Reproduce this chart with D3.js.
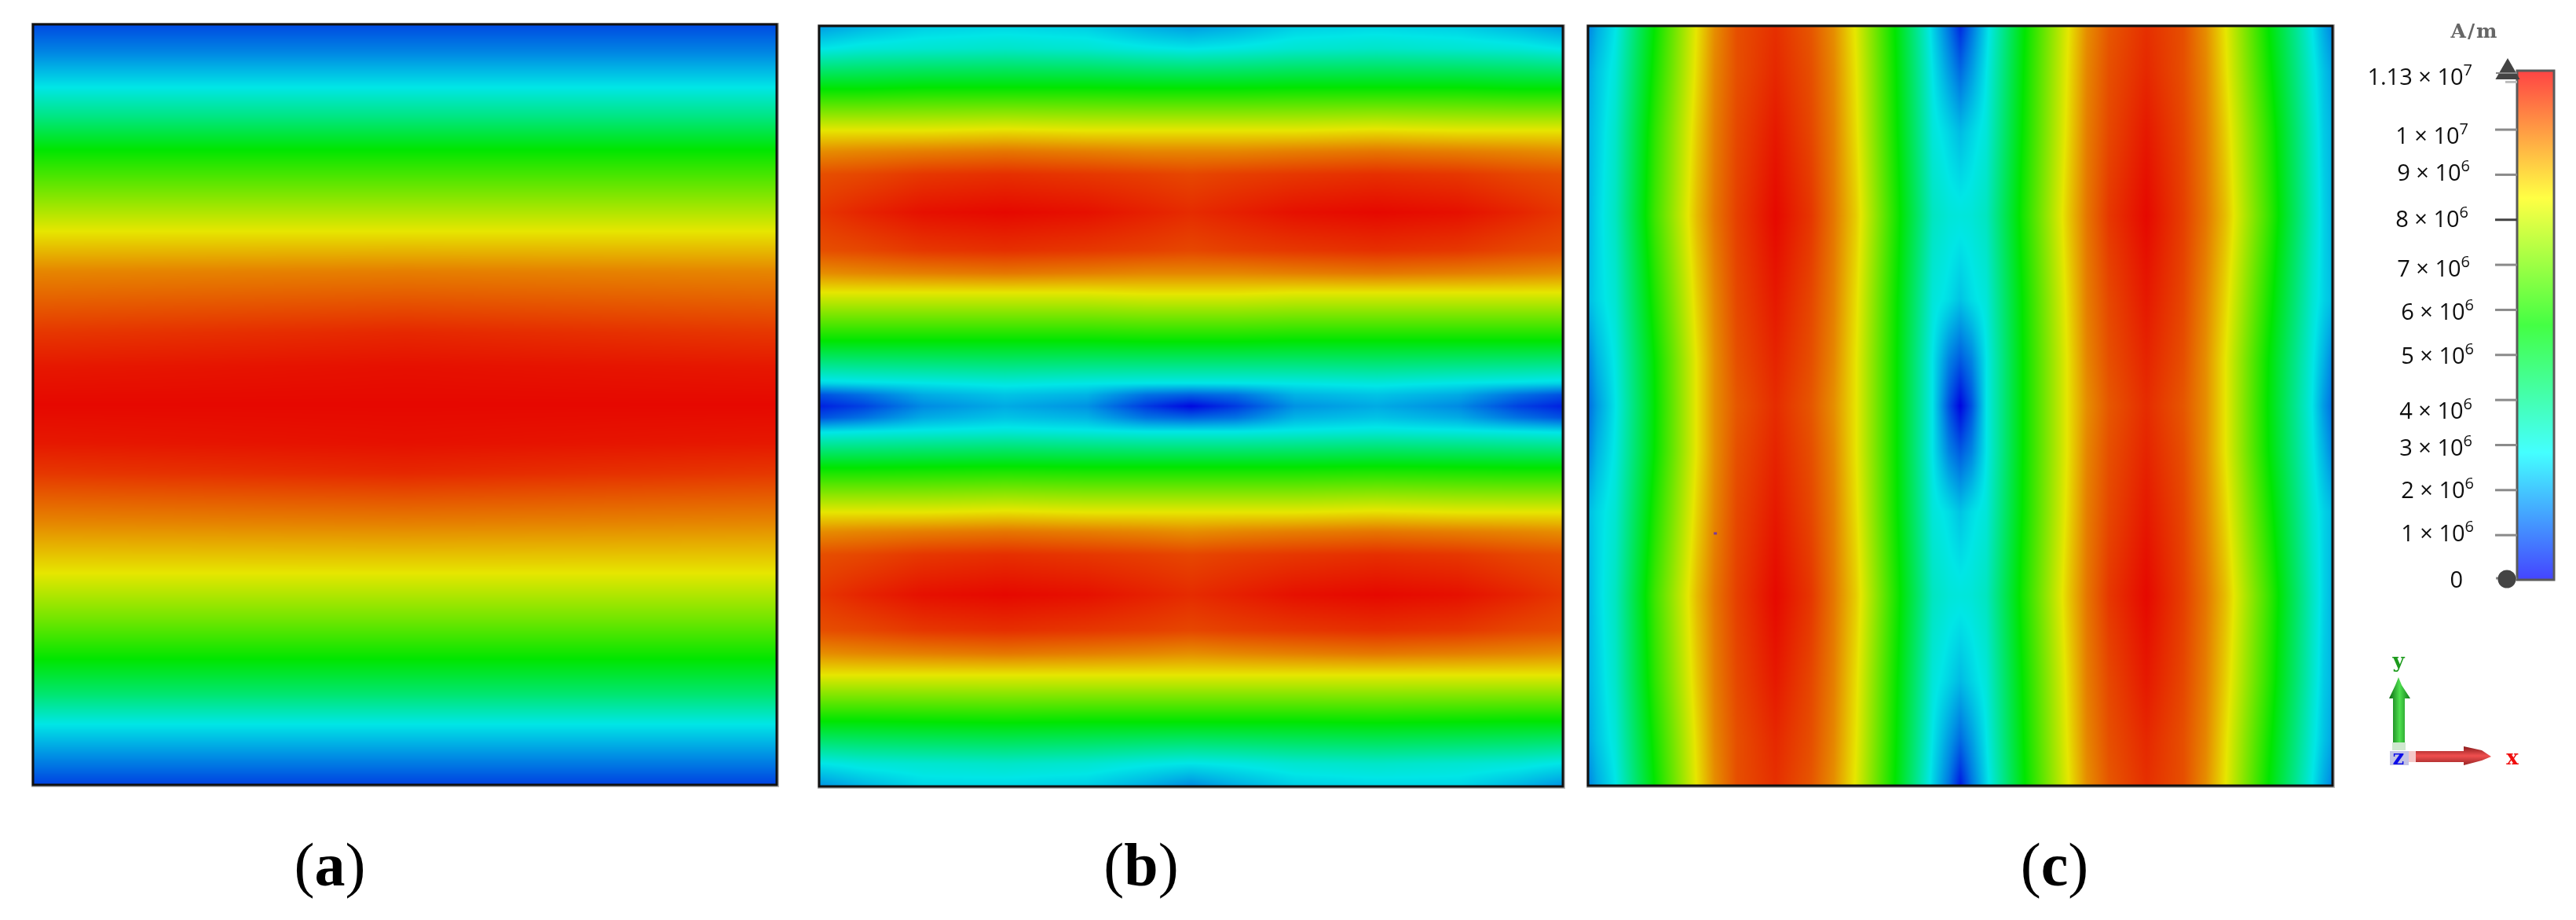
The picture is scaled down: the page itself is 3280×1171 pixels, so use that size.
<!DOCTYPE html>
<html><head><meta charset="utf-8">
<script src="https://cdn.jsdelivr.net/npm/d3@7/dist/d3.min.js"></script>
<style>html,body{margin:0;background:#fff;overflow:hidden}canvas,svg{position:absolute;left:0;top:0}</style>
</head><body>
<script>
// Field magnitude in units of 1e6 A/m.
const fieldStops = [0, 2.825, 5.65, 8.475, 11.3];
const fieldColors = ["#0000e0", "#00e6e6", "#00e600", "#e6e600", "#e60800"];
const legendColors = ["#4444ff", "#44ffff", "#44ff44", "#ffff44", "#ff4444"];
const legendTicks = [10, 9, 8, 7, 6, 5, 4, 3, 2, 1];
const legendLabels = [
  ["1.13 × 10", "7", 11.3], ["1 × 10", "7", 10], ["9 × 10", "6", 9], ["8 × 10", "6", 8], ["7 × 10", "6", 7],
  ["6 × 10", "6", 6], ["5 × 10", "6", 5], ["4 × 10", "6", 4], ["3 × 10", "6", 3], ["2 × 10", "6", 2],
  ["1 × 10", "6", 1], ["0", "", 0]
];
const legendLabelDy = [18, 18, 8, 10, 15, 13, 12, 24, 14, 11, 8, 10];
const legendLabelX = [3148, 3143, 3145, 3143, 3145, 3150, 3150, 3148, 3148, 3150, 3150, 3136];
const captions = ["a", "b", "c"];

const aRows = [0, .037, .083, .12, .165, .22, .272, .325, .405, .45, .5, .55, .59, .655, .722, .78, .835, .88, .92, .96, 1];
const aCols = [0, .5, 1];
const aValues = [
  [0.9, 0.9, 0.9], [1.65, 1.65, 1.65], [2.83, 2.83, 2.83], [4.0, 4.0, 4.0], [5.65, 5.65, 5.65],
  [7.1, 7.1, 7.1], [8.47, 8.47, 8.47], [9.7, 9.8, 9.7], [10.7, 10.9, 10.7], [11.1, 11.2, 11.1],
  [11.3, 11.3, 11.3], [11.1, 11.2, 11.1], [10.7, 10.9, 10.7], [9.7, 9.8, 9.7], [8.47, 8.47, 8.47],
  [7.1, 7.1, 7.1], [5.65, 5.65, 5.65], [4.3, 4.3, 4.3], [2.83, 2.83, 2.83], [1.8, 1.8, 1.8], [0.8, 0.8, 0.8]
];

const bRows = [0, .03, .082, .138, .165, .195, .245, .295, .325, .352, .415, .47, .485, .5, .515, .533, .58, .64, .665, .695, .748, .795, .825, .853, .915, .97, 1];
const bCols = [0, .06, .14, .25, .36, .44, .5, .56, .64, .75, .86, .94, 1];
const bValues = [
  [1.9, 2.2, 2.5, 2.6, 2.5, 2.1, 1.9, 2.1, 2.5, 2.6, 2.5, 2.2, 1.9],
  [2.8, 3.0, 3.1, 3.2, 3.1, 2.9, 2.8, 2.9, 3.1, 3.2, 3.1, 3.0, 2.8],
  [5.6, 5.6, 5.7, 5.7, 5.7, 5.65, 5.65, 5.65, 5.7, 5.7, 5.7, 5.6, 5.6],
  [8.5, 8.5, 8.5, 8.6, 8.5, 8.5, 8.5, 8.5, 8.5, 8.6, 8.5, 8.5, 8.5],
  [9.6, 9.7, 9.8, 9.9, 9.8, 9.7, 9.7, 9.7, 9.8, 9.9, 9.8, 9.7, 9.6],
  [10.4, 10.5, 10.7, 10.8, 10.7, 10.6, 10.5, 10.6, 10.7, 10.8, 10.7, 10.5, 10.4],
  [10.7, 10.95, 11.2, 11.3, 11.2, 11.0, 10.85, 11.0, 11.2, 11.3, 11.2, 10.95, 10.7],
  [10.4, 10.5, 10.7, 10.8, 10.7, 10.6, 10.5, 10.6, 10.7, 10.8, 10.7, 10.5, 10.4],
  [9.6, 9.7, 9.8, 9.9, 9.8, 9.7, 9.7, 9.7, 9.8, 9.9, 9.8, 9.7, 9.6],
  [8.4, 8.4, 8.4, 8.4, 8.4, 8.5, 8.5, 8.5, 8.4, 8.4, 8.4, 8.4, 8.4],
  [5.6, 5.6, 5.6, 5.6, 5.6, 5.65, 5.65, 5.65, 5.6, 5.6, 5.6, 5.6, 5.6],
  [2.6, 2.7, 2.8, 2.95, 2.85, 2.8, 2.8, 2.8, 2.85, 2.95, 2.8, 2.7, 2.6],
  [1.0, 1.4, 2.1, 2.4, 2.2, 1.4, 1.2, 1.4, 2.2, 2.4, 2.1, 1.4, 1.0],
  [0.4, 0.8, 1.7, 2.1, 1.8, 0.7, 0.1, 0.7, 1.8, 2.1, 1.7, 0.8, 0.4],
  [1.0, 1.4, 2.1, 2.4, 2.2, 1.4, 1.2, 1.4, 2.2, 2.4, 2.1, 1.4, 1.0],
  [2.7, 2.8, 2.9, 3.0, 2.9, 2.8, 2.8, 2.8, 2.9, 3.0, 2.9, 2.8, 2.7],
  [5.6, 5.6, 5.65, 5.7, 5.65, 5.65, 5.65, 5.65, 5.65, 5.7, 5.65, 5.6, 5.6],
  [8.5, 8.5, 8.5, 8.6, 8.5, 8.5, 8.5, 8.5, 8.5, 8.6, 8.5, 8.5, 8.5],
  [9.6, 9.7, 9.8, 9.9, 9.8, 9.7, 9.6, 9.7, 9.8, 9.9, 9.8, 9.7, 9.6],
  [10.4, 10.5, 10.7, 10.8, 10.7, 10.6, 10.5, 10.6, 10.7, 10.8, 10.7, 10.5, 10.4],
  [10.7, 10.95, 11.2, 11.3, 11.2, 11.0, 10.85, 11.0, 11.2, 11.3, 11.2, 10.95, 10.7],
  [10.4, 10.5, 10.7, 10.8, 10.7, 10.6, 10.5, 10.6, 10.7, 10.8, 10.7, 10.5, 10.4],
  [9.6, 9.7, 9.8, 9.9, 9.8, 9.7, 9.6, 9.7, 9.8, 9.9, 9.8, 9.7, 9.6],
  [8.5, 8.5, 8.5, 8.5, 8.5, 8.5, 8.5, 8.5, 8.5, 8.5, 8.5, 8.5, 8.5],
  [5.6, 5.6, 5.65, 5.7, 5.65, 5.65, 5.65, 5.65, 5.65, 5.7, 5.65, 5.6, 5.6],
  [2.8, 3.0, 3.1, 3.2, 3.1, 2.9, 2.8, 2.9, 3.1, 3.2, 3.1, 3.0, 2.8],
  [1.8, 2.2, 2.6, 2.6, 2.5, 2.1, 1.7, 2.1, 2.5, 2.6, 2.6, 2.2, 1.8]
];

const cRows = [0, .06, .14, .25, .36, .44, .5, .56, .64, .75, .86, .94, 1];
const cCols = [0, .012, .037, .09, .146, .17, .2, .252, .3, .33, .36, .415, .463, .485, .5, .515, .535, .584, .644, .67, .7, .75, .8, .83, .856, .913, .973, .988, 1];
const cValues = [
  [1.6, 2.1, 2.8, 5.7, 8.5, 9.6, 10.4, 10.8, 10.3, 9.6, 8.4, 5.5, 2.6, 1.4, 0.5, 1.4, 2.6, 5.5, 8.4, 9.6, 10.3, 10.8, 10.4, 9.6, 8.5, 5.7, 2.8, 2.1, 1.6],
  [2.0, 2.4, 3.0, 5.9, 8.6, 9.7, 10.4, 10.9, 10.4, 9.7, 8.5, 5.6, 2.8, 1.9, 1.3, 1.9, 2.8, 5.6, 8.5, 9.7, 10.4, 10.9, 10.4, 9.7, 8.6, 5.9, 3.0, 2.4, 2.0],
  [2.2, 2.5, 3.2, 6.2, 8.8, 9.8, 10.5, 11.1, 10.5, 9.8, 8.6, 5.7, 3.0, 2.6, 2.3, 2.6, 3.0, 5.7, 8.6, 9.8, 10.5, 11.1, 10.5, 9.8, 8.8, 6.2, 3.2, 2.5, 2.2],
  [2.2, 2.6, 3.3, 6.4, 9.0, 9.9, 10.6, 11.3, 10.7, 9.9, 8.8, 5.9, 3.3, 3.0, 2.95, 3.0, 3.3, 5.9, 8.8, 9.9, 10.7, 11.3, 10.6, 9.9, 9.0, 6.4, 3.3, 2.6, 2.2],
  [2.3, 2.6, 3.1, 6.0, 8.7, 9.7, 10.5, 11.1, 10.5, 9.8, 8.6, 5.7, 3.0, 2.7, 2.4, 2.7, 3.0, 5.7, 8.6, 9.8, 10.5, 11.1, 10.5, 9.7, 8.7, 6.0, 3.1, 2.6, 2.3],
  [1.6, 2.2, 2.9, 5.7, 8.5, 9.6, 10.4, 10.95, 10.4, 9.7, 8.5, 5.65, 2.8, 1.6, 1.1, 1.6, 2.8, 5.65, 8.5, 9.7, 10.4, 10.95, 10.4, 9.6, 8.5, 5.7, 2.9, 2.2, 1.6],
  [1.3, 1.9, 2.8, 5.65, 8.5, 9.6, 10.3, 10.85, 10.3, 9.6, 8.5, 5.65, 2.8, 1.0, 0.05, 1.0, 2.8, 5.65, 8.5, 9.6, 10.3, 10.85, 10.3, 9.6, 8.5, 5.65, 2.8, 1.9, 1.3],
  [1.6, 2.2, 2.9, 5.7, 8.5, 9.6, 10.4, 10.95, 10.4, 9.7, 8.5, 5.65, 2.8, 1.6, 1.1, 1.6, 2.8, 5.65, 8.5, 9.7, 10.4, 10.95, 10.4, 9.6, 8.5, 5.7, 2.9, 2.2, 1.6],
  [2.3, 2.6, 3.1, 6.0, 8.7, 9.7, 10.5, 11.1, 10.5, 9.8, 8.6, 5.7, 3.0, 2.7, 2.4, 2.7, 3.0, 5.7, 8.6, 9.8, 10.5, 11.1, 10.5, 9.7, 8.7, 6.0, 3.1, 2.6, 2.3],
  [2.2, 2.6, 3.3, 6.4, 9.0, 9.9, 10.6, 11.3, 10.7, 9.9, 8.8, 5.9, 3.3, 3.0, 2.95, 3.0, 3.3, 5.9, 8.8, 9.9, 10.7, 11.3, 10.6, 9.9, 9.0, 6.4, 3.3, 2.6, 2.2],
  [2.2, 2.5, 3.2, 6.2, 8.8, 9.8, 10.5, 11.1, 10.5, 9.8, 8.6, 5.7, 3.0, 2.6, 2.3, 2.6, 3.0, 5.7, 8.6, 9.8, 10.5, 11.1, 10.5, 9.8, 8.8, 6.2, 3.2, 2.5, 2.2],
  [2.0, 2.4, 3.0, 5.9, 8.6, 9.7, 10.4, 10.9, 10.4, 9.7, 8.5, 5.6, 2.8, 1.9, 1.3, 1.9, 2.8, 5.6, 8.5, 9.7, 10.4, 10.9, 10.4, 9.7, 8.6, 5.9, 3.0, 2.4, 2.0],
  [1.6, 2.1, 2.8, 5.7, 8.5, 9.6, 10.4, 10.8, 10.3, 9.6, 8.4, 5.5, 2.6, 1.4, 0.3, 1.4, 2.6, 5.5, 8.4, 9.6, 10.3, 10.8, 10.4, 9.6, 8.5, 5.7, 2.8, 2.1, 1.6]
];
const strayPoint = [0.171, 0.668];

const W = 3280, H = 1171;
const panels = [
  {x0: 42, x1: 989, y0: 31, y1: 999, rows: aRows, cols: aCols, values: aValues, captionX: 420},
  {x0: 1043, x1: 1990, y0: 33, y1: 1001, rows: bRows, cols: bCols, values: bValues, captionX: 1453},
  {x0: 2022, x1: 2970, y0: 33, y1: 1000, rows: cRows, cols: cCols, values: cValues, captionX: 2616}
];

const colorScale = d3.scaleLinear().domain(fieldStops).range(fieldColors).clamp(true);
const LUT = d3.range(2048).map(i => d3.rgb(colorScale(i / 2047 * 11.3)));

const canvas = d3.select("body").append("canvas").attr("width", W).attr("height", H).node();
const ctx = canvas.getContext("2d");
ctx.fillStyle = "#fff"; ctx.fillRect(0, 0, W, H);

panels.forEach(p => {
  const w = p.x1 - p.x0, h = p.y1 - p.y0;
  const xIdx = d3.scaleLinear().domain(p.cols).range(d3.range(p.cols.length)).clamp(true);
  const yIdx = d3.scaleLinear().domain(p.rows).range(d3.range(p.rows.length)).clamp(true);
  const cx = d3.range(w).map(i => xIdx((i + .5) / w));
  const img = ctx.createImageData(w, h);
  for (let j = 0; j < h; j++) {
    const fy = yIdx((j + .5) / h);
    const r0 = Math.min(Math.floor(fy), p.rows.length - 2), ty = fy - r0;
    const A = p.values[r0], B = p.values[r0 + 1];
    for (let i = 0; i < w; i++) {
      const fx = cx[i];
      const c0 = Math.min(Math.floor(fx), p.cols.length - 2), tx = fx - c0;
      const v = (A[c0] * (1 - tx) + A[c0 + 1] * tx) * (1 - ty) + (B[c0] * (1 - tx) + B[c0 + 1] * tx) * ty;
      const col = LUT[Math.max(0, Math.min(2047, Math.round(v / 11.3 * 2047)))];
      const k = (j * w + i) * 4;
      img.data[k] = col.r; img.data[k + 1] = col.g; img.data[k + 2] = col.b; img.data[k + 3] = 255;
    }
  }
  ctx.putImageData(img, p.x0, p.y0);
});

const svg = d3.select("body").append("svg").attr("width", W).attr("height", H).attr("viewBox", `0 0 ${W} ${H}`);
const defs = svg.append("defs");
defs.append("filter").attr("id", "soft").append("feGaussianBlur").attr("stdDeviation", 0.6);

// panel frames, with a faint shadow
panels.forEach(p => {
  svg.append("rect").attr("x", p.x0 - 1).attr("y", p.y0 - 1).attr("width", p.x1 - p.x0 + 3).attr("height", p.y1 - p.y0 + 3)
    .attr("fill", "none").attr("stroke", "#bbb").attr("stroke-width", 2);
  svg.append("rect").attr("x", p.x0).attr("y", p.y0).attr("width", p.x1 - p.x0).attr("height", p.y1 - p.y0)
    .attr("fill", "none").attr("stroke", "#111").attr("stroke-width", 3);
});
// stray pixel in panel (c)
const pc = panels[2];
svg.append("rect")
  .attr("x", d3.scaleLinear().domain([0, 1]).range([pc.x0, pc.x1])(strayPoint[0]) - 2)
  .attr("y", d3.scaleLinear().domain([0, 1]).range([pc.y0, pc.y1])(strayPoint[1]) - 1.5)
  .attr("width", 4).attr("height", 3).attr("fill", "#7a3a9a");

// captions
const capG = svg.append("g").attr("font-family", "'Liberation Serif', serif").attr("font-size", 78).attr("text-anchor", "middle");
captions.forEach((c, i) => {
  const t = capG.append("text").attr("x", panels[i].captionX).attr("y", 1127).attr("fill", "#000");
  t.append("tspan").text("(");
  t.append("tspan").attr("font-weight", 700).text(c);
  t.append("tspan").text(")");
});

// colour legend
const legX = 3205, legW = 47, legTop = 90, legBottom = 738;
const y = d3.scaleLinear().domain([0, 11.3]).range([legBottom, legTop]);
const grad = defs.append("linearGradient").attr("id", "legendGrad").attr("x1", 0).attr("x2", 0).attr("y1", 1).attr("y2", 0);
fieldStops.forEach((s, i) => grad.append("stop").attr("offset", s / 11.3).attr("stop-color", legendColors[i]));
svg.append("rect").attr("x", legX).attr("y", legTop).attr("width", legW).attr("height", legBottom - legTop)
  .attr("fill", "url(#legendGrad)").attr("stroke", "#5a5a5a").attr("stroke-width", 3);

const axis = d3.axisLeft(y).tickValues(legendTicks).tickSize(28).tickFormat("");
const axG = svg.append("g").attr("transform", `translate(${legX},0)`).call(axis);
axG.select(".domain").remove();
axG.selectAll(".tick line").attr("stroke", d => d === 8 ? "#444" : "#8a8a8a").attr("stroke-width", 3);

// end markers
svg.append("path").attr("d", d3.symbol(d3.symbolTriangle, 420)()).attr("transform", `translate(3193,${y(11.3) + 2})`).attr("fill", "#444");
svg.append("line").attr("x1", 3178).attr("x2", 3205).attr("y1", y(11.3) + 3).attr("y2", y(11.3) + 3).attr("stroke", "#888").attr("stroke-width", 2);
svg.append("line").attr("x1", 3190).attr("x2", 3205).attr("y1", y(11.05)).attr("y2", y(11.05)).attr("stroke", "#bbb").attr("stroke-width", 3);
svg.append("line").attr("x1", 3178).attr("x2", 3205).attr("y1", y(0) - 2).attr("y2", y(0) - 2).attr("stroke", "#888").attr("stroke-width", 3);
svg.append("path").attr("d", d3.symbol(d3.symbolOctagon || d3.symbolCircle, 420)()).attr("transform", `translate(3192,${y(0) - 1})`).attr("fill", "#444");

// legend labels
const labG = svg.append("g").attr("font-family", "'Open Sans','Noto Sans',sans-serif").attr("font-size", 29).attr("fill", "#111").attr("filter", "url(#soft)");
legendLabels.forEach((d, i) => {
  const t = labG.append("text").attr("x", legendLabelX[i]).attr("y", y(d[2]) + legendLabelDy[i]).attr("text-anchor", "end");
  t.append("tspan").text(d[0]);
  if (d[1]) t.append("tspan").attr("dy", -12).attr("font-size", 20).text(d[1]);
});
svg.append("text").attr("x", 3151).attr("y", 48).attr("text-anchor", "middle").attr("font-family", "'DejaVu Serif',serif")
  .attr("font-weight", 700).attr("font-size", 25).attr("letter-spacing", 2).attr("fill", "#666").attr("filter", "url(#soft)").text("A/m");

// axis triad
const triad = svg.append("g").attr("filter", "url(#soft)");
const gGrad = defs.append("linearGradient").attr("id", "gArrow");
[["0", "#0b6a12"], [".5", "#4fe04f"], ["1", "#0f7a18"]].forEach(s => gGrad.append("stop").attr("offset", s[0]).attr("stop-color", s[1]));
const rGrad = defs.append("linearGradient").attr("id", "rArrow").attr("x1", 0).attr("x2", 0).attr("y1", 0).attr("y2", 1);
[["0", "#8a1c1c"], [".5", "#f05050"], ["1", "#9a2424"]].forEach(s => rGrad.append("stop").attr("offset", s[0]).attr("stop-color", s[1]));
triad.append("rect").attr("x", 3046).attr("y", 945).attr("width", 17).attr("height", 10).attr("fill", "#cfe8cf");
triad.append("path").attr("d", "M3047,945V889L3042,889L3050,872L3054,862L3058,872L3069,889L3062,889V945Z").attr("fill", "url(#gArrow)");
triad.append("rect").attr("x", 3065).attr("y", 956).attr("width", 12).attr("height", 14).attr("fill", "#f5c8c8");
triad.append("path").attr("d", "M3076,956H3137V950L3160,955L3172,963L3160,968L3137,974V970H3076Z").attr("fill", "url(#rArrow)");
triad.append("rect").attr("x", 3043).attr("y", 956).attr("width", 24).attr("height", 18).attr("fill", "#c4c4e4");
const tf = {"font-family": "'DejaVu Serif',serif", "font-weight": 700, "font-size": 26, "text-anchor": "middle"};
[["y", 3054, 850, "#1a9a1a"], ["z", 3054, 973, "#1010e8"], ["x", 3199, 973, "#f01010"]].forEach(d => {
  const t = triad.append("text").attr("x", d[1]).attr("y", d[2]).attr("fill", d[3]).text(d[0]);
  Object.entries(tf).forEach(([k, v]) => t.attr(k, v));
});
</script>
</body></html>
